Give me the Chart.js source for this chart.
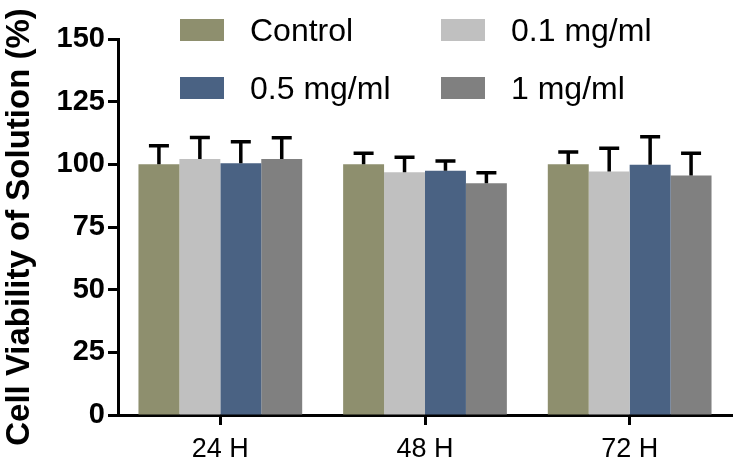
<!DOCTYPE html>
<html>
<head>
<meta charset="utf-8">
<script src="https://cdn.jsdelivr.net/npm/chart.js@4/dist/chart.umd.min.js"></script>
<style>
  html,body{margin:0;padding:0;background:#fff;}
  #wrap{width:735px;height:459px;position:relative;}
</style>
</head>
<body>
<div id="wrap"><canvas id="chart" width="735" height="459"></canvas></div>
<script>
// data
const timepoints = ['24 H', '48 H', '72 H'];
const groupNames = ['Control', '0.1 mg/ml', '0.5 mg/ml', '1 mg/ml'];
const groupColors = ['#8e8f6e', '#c0c0c0', '#4a6283', '#808080'];

const controlMean = [100, 100, 100];
const low01Mean   = [102.1, 96.8, 97.1];
const mid05Mean   = [100.4, 97.4, 99.8];
const high1Mean   = [102.1, 92.5, 95.5];

const controlSD = [7.4, 4.4, 4.9];
const low01SD   = [8.6, 6.0, 9.3];
const mid05SD   = [8.6, 3.9, 11.2];
const high1SD   = [8.5, 4.1, 8.9];

const yTicks = [0, 25, 50, 75, 100, 125, 150];

const means = [controlMean, low01Mean, mid05Mean, high1Mean];
const sds = [controlSD, low01SD, mid05SD, high1SD];

const FONT = '"Liberation Sans", Arial, Helvetica, sans-serif';

// upper-only error bars with a cap
const errorBars = {
  id:'errorBars',
  afterDatasetsDraw(chart){
    const ctx = chart.ctx;
    const y = chart.scales.y;
    ctx.save();
    ctx.strokeStyle = '#000';
    ctx.lineWidth = 3.5;
    ctx.lineCap = 'butt';
    chart.data.datasets.forEach((ds, di)=>{
      const meta = chart.getDatasetMeta(di);
      meta.data.forEach((bar, i)=>{
        const v = ds.data[i];
        const top = y.getPixelForValue(v + ds.sd[i]);
        const base = y.getPixelForValue(v);
        ctx.beginPath();
        ctx.moveTo(bar.x, base);
        ctx.lineTo(bar.x, top);
        ctx.moveTo(bar.x - 10, top);
        ctx.lineTo(bar.x + 10, top);
        ctx.stroke();
      });
    });
    ctx.restore();
  }
};

// 2x2 legend in the top area
const gridLegend = {
  id:'gridLegend',
  afterDraw(chart){
    const ctx = chart.ctx;
    const cols = [180, 441];
    const rows = [30, 88];
    ctx.save();
    ctx.font = '32px ' + FONT;
    ctx.textBaseline = 'middle';
    ctx.textAlign = 'left';
    chart.data.datasets.forEach((ds, i)=>{
      const x = cols[i % 2];
      const yc = rows[Math.floor(i / 2)];
      ctx.fillStyle = ds.backgroundColor;
      ctx.fillRect(x, yc - 11, 44, 22);
      ctx.fillStyle = '#000';
      ctx.fillText(ds.label, x + 70, yc + 2);
    });
    ctx.restore();
  }
};

new Chart(document.getElementById('chart'), {
  type:'bar',
  data:{
    labels: timepoints,
    datasets: groupNames.map((name, i)=>({
      label: name,
      data: means[i],
      sd: sds[i],
      backgroundColor: groupColors[i],
      borderWidth: 0,
      categoryPercentage: 0.8,
      barPercentage: 1.0
    }))
  },
  options:{
    responsive:false,
    animation:false,
    layout:{padding:{top:39, right:3, bottom:0, left:0}},
    plugins:{
      legend:{display:false},
      tooltip:{enabled:false}
    },
    scales:{
      x:{
        z:1,
        grid:{display:true, offset:false, drawOnChartArea:false, drawTicks:true, tickLength:10, tickWidth:3, tickColor:'#000'},
        border:{display:true, color:'#000', width:3},
        ticks:{color:'#000', padding:8, font:{family:FONT, size:27}},
        afterFit(s){ s.height = 44; }
      },
      y:{
        min:0,
        max:150,
        z:1,
        afterBuildTicks(s){ s.ticks = yTicks.map(v=>({value:v})); },
        grid:{display:true, drawOnChartArea:false, drawTicks:true, tickLength:10, tickWidth:3, tickColor:'#000'},
        border:{display:true, color:'#000', width:3},
        ticks:{color:'#000', padding:3, font:{family:FONT, size:29, weight:'bold'}},
        title:{display:true, text:'Cell Viability of Solution (%)', color:'#000', padding:{top:0, bottom:0}, font:{family:FONT, size:33, weight:'bold'}},
        afterFit(s){ s.width = 118; }
      }
    }
  },
  plugins:[errorBars, gridLegend]
});
</script>
</body>
</html>
